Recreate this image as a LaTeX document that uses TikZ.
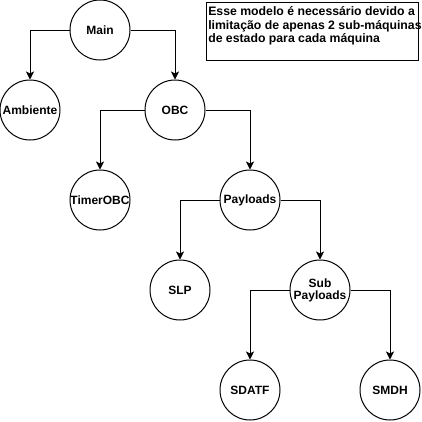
\documentclass[tikz,border=0pt]{standalone}
\usepackage{fontspec}
\setmainfont{Liberation Sans}
\usetikzlibrary{positioning,arrows.meta}

\begin{document}
\begin{tikzpicture}[node distance=60pt, on grid]
		% estilos
		\tikzset{state/.style={circle, line width=0.75pt, draw=black, fill=white, minimum size=45pt, inner sep=0pt, align=center, font=\fontsize{9}{10}\selectfont\bfseries}}	% estados
		\tikzset{arrow/.style={line width=0.75pt, -{Stealth[length=6pt,width=6pt,inset=1.5pt]}}}	% setas
		\useasboundingbox (0,0) rectangle (316.5pt,-316.5pt);
		\node (main) [state] at (75pt,-22.5pt) {Main};
		\node (ambiente) [state, below left=60pt and 52.5pt of main] {Ambiente};
		\node (obc) [state, below right=60pt and 56.25pt of main] {OBC};
		\node (timer) [state, below left=67.5pt and 56.25pt of obc] {TimerOBC};
		\node (payloads) [state, below right=67.5pt and 56.25pt of obc] {Payloads};
		\node (slp) [state, below left=67.5pt and 52.5pt of payloads] {SLP};
		\node (sub) [state, below right=67.5pt and 52.5pt of payloads] {Sub\\[-1pt]Payloads};
		\node (sdatf) [state, below left=75pt and 52.5pt of sub] {SDATF};
		\node (smdh) [state, below right=75pt and 52.5pt of sub] {SMDH};
		% nota
		\node (note) [draw, line width=0.75pt, anchor=north west, minimum width=159pt, minimum height=43.5pt, inner sep=0pt] at (154.5pt,-1.5pt) {};
		\node (notetext) [anchor=north west, align=left, inner sep=0pt, font=\fontsize{9.2}{10.2}\selectfont\bfseries] at ([xshift=1.5pt,yshift=-3.2pt]note.north west) {Esse modelo é necessário devido a\\limitação de apenas 2 sub-máquinas\\de estado para cada máquina};
		
		% ligações
		\draw [arrow](main) -| (ambiente);
		\draw [arrow](main) -| (obc);
		\draw [arrow](obc) -| (timer);
		\draw [arrow](obc) -| (payloads);
		\draw [arrow](payloads) -| (slp);
		\draw [arrow](payloads) -| (sub);
		\draw [arrow](sub) -| (sdatf);
		\draw [arrow](sub) -| (smdh);
	\end{tikzpicture}
\end{document}
